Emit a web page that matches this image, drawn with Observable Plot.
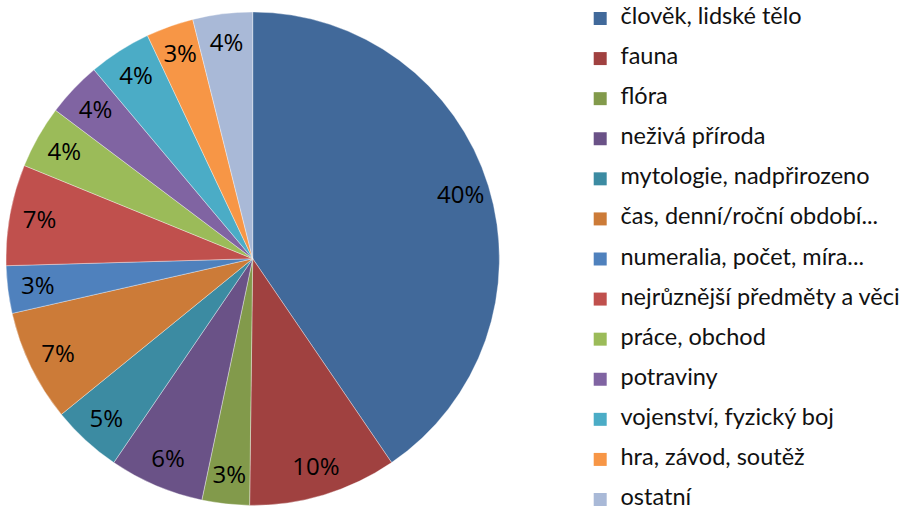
<!DOCTYPE html>
<html><head><meta charset="utf-8">
<script src="https://cdn.jsdelivr.net/npm/d3@7"></script>
<script src="https://cdn.jsdelivr.net/npm/@observablehq/plot@0.6"></script>
<style>
body{margin:0;background:#fff;}
#wrap{display:flex;width:914px;height:510px;overflow:hidden;}
#wrap svg{display:block;flex:none;overflow:visible;}
</style></head><body><div id="wrap"></div>
<script>
const categories = [
  "člověk, lidské tělo",
  "fauna",
  "flóra",
  "neživá příroda",
  "mytologie, nadpřirozeno",
  "čas, denní/roční období...",
  "numeralia, počet, míra...",
  "nejrůznější předměty a věci",
  "práce, obchod",
  "potraviny",
  "vojenství, fyzický boj",
  "hra, závod, soutěž",
  "ostatní"
];
const values = [40.4, 9.7, 3.1, 6.2, 4.6, 7.3, 3.1, 6.6, 4.1, 3.6, 4.1, 3.1, 3.9];
const colors = [
  "#41699A", "#A04140", "#829A4B", "#6A5287", "#3C8BA2", "#CC7B38",
  "#4F81BD", "#C0504D", "#9BBB59", "#8064A2", "#4BACC6", "#F79646", "#A9B9D7"
];

const total = d3.sum(values);
const arcsData = d3.pie().sort(null).value(d => d)(values);
const labelR = 0.88;
const slices = categories.map((c, i) => {
  const a = arcsData[i];
  const mid = (a.startAngle + a.endAngle) / 2;
  return {
    category: c,
    start: a.startAngle,
    end: a.endAngle,
    label: Math.round(values[i] / total * 100) + "%",
    lx: labelR * Math.sin(mid),
    ly: labelR * Math.cos(mid)
  };
});

const colorScale = Plot.scale({color: {type: "ordinal", domain: categories, range: colors}});

function pieMark(index, scales) {
  const cx = scales.x(0), cy = scales.y(0);
  const r = scales.x(1) - scales.x(0);
  const arc = d3.arc();
  const g = d3.create("svg:g").attr("transform", `translate(${cx},${cy})`);
  g.selectAll("path").data(slices).join("path")
    .attr("d", d => arc({innerRadius: 0, outerRadius: r, startAngle: d.start, endAngle: d.end}))
    .attr("fill", d => colorScale.apply(d.category))
    .attr("stroke", "#ffffff")
    .attr("stroke-opacity", 0.6)
    .attr("stroke-width", 0.6);
  return g.node();
}

const pieChart = Plot.plot({
  width: 506, height: 510,
  marginLeft: 6, marginRight: 6.6, marginTop: 12, marginBottom: 4.6,
  x: {domain: [-1, 1], axis: null},
  y: {domain: [-1, 1], axis: null},
  style: {fontFamily: "'Open Sans', sans-serif", background: "#fff"},
  marks: [
    pieMark,
    Plot.text(slices, {x: "lx", y: "ly", text: "label", fontSize: 24, fill: "#000"})
  ]
});

const legend = Plot.plot({
  width: 408, height: 510,
  marginLeft: 93.7, marginRight: 0, marginTop: 18, marginBottom: 11,
  y: {type: "point", domain: categories, padding: 0, round: false, axis: null},
  color: {domain: categories, range: colors},
  style: {fontFamily: "Lato, sans-serif", background: "#fff"},
  marks: [
    Plot.dot(categories, {y: d => d, fill: d => d, symbol: "square", r: 7.33, frameAnchor: "left"}),
    Plot.text(categories, {y: d => d, text: d => d, frameAnchor: "left", dx: 20.3, dy: -2, textAnchor: "start", fontSize: 23.5, fill: "#111"})
  ]
});

const wrap = document.getElementById("wrap");
wrap.appendChild(pieChart);
wrap.appendChild(legend);
</script></body></html>
